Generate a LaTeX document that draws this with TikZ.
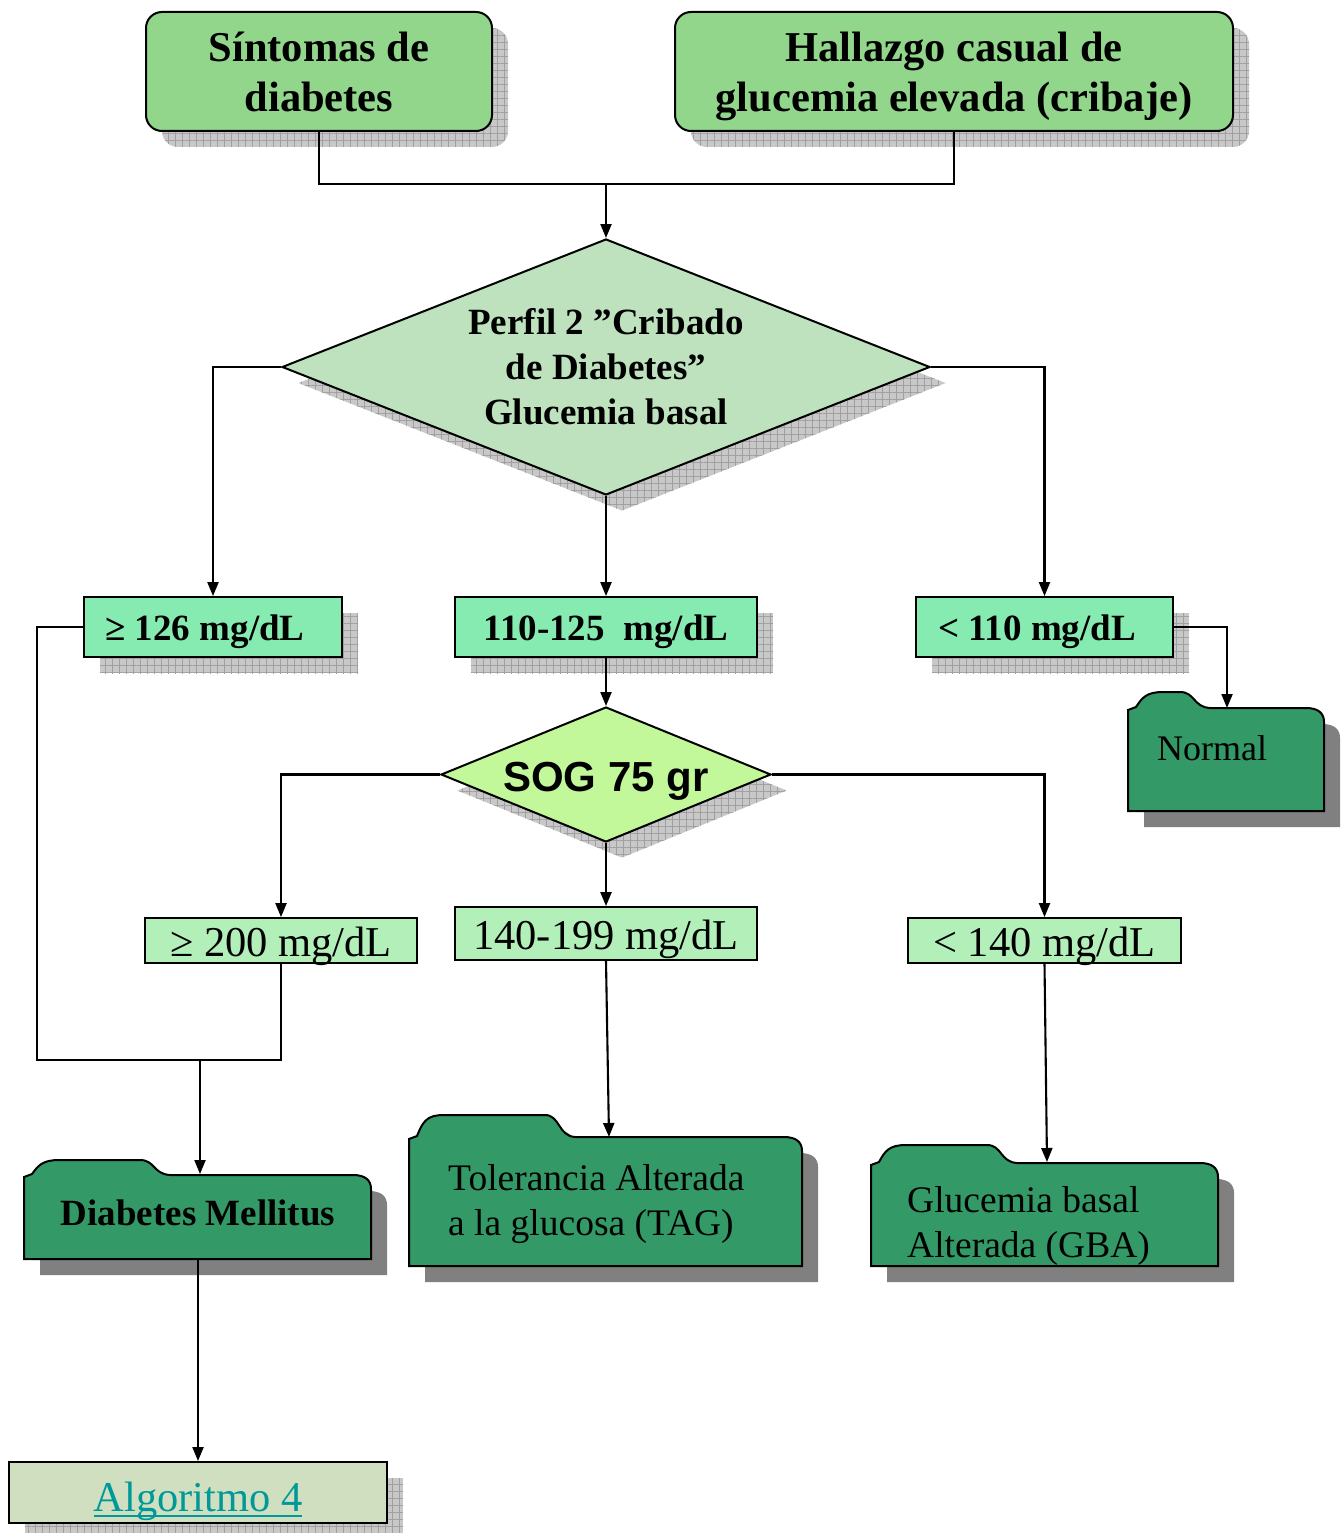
\documentclass[tikz,border=0pt]{standalone}
\usepackage{fontspec}
\setmainfont{Liberation Serif}
\newfontfamily\arialf{Liberation Sans}
\usetikzlibrary{shapes.geometric,arrows.meta,shadows,patterns.meta}
\definecolor{cTop}{RGB}{146,214,140}
\definecolor{cDa}{RGB}{189,226,189}
\definecolor{cMint}{RGB}{134,235,177}
\definecolor{cDb}{RGB}{194,247,154}
\definecolor{cLite}{RGB}{178,239,185}
\definecolor{cFold}{RGB}{51,153,102}
\definecolor{cAlg}{RGB}{208,223,192}
\definecolor{cLink}{RGB}{0,153,153}
\definecolor{shBase}{RGB}{200,200,200}
\definecolor{shLine}{RGB}{160,160,160}
\newcommand\ulink[1]{\setbox0=\hbox{#1}\leavevmode\rlap{\copy0}\rule[-6pt]{\wd0}{2pt}}
\newcommand\nodepth[1]{\raisebox{0pt}[\height][0pt]{#1}}
\begin{document}
\begin{tikzpicture}[x=1pt,y=-1pt,
  ln/.style={line width=2.1pt},
  arr/.style={line width=2.1pt,-{Triangle[length=14pt,width=11pt]}},
  hshadow/.style={
    general shadow={shadow xshift=16pt,shadow yshift=-16pt,fill=shBase},
    general shadow={shadow xshift=16pt,shadow yshift=-16pt,pattern={Lines[angle=0,distance=7pt,line width=0.8pt]},pattern color=shLine},
    general shadow={shadow xshift=16pt,shadow yshift=-16pt,pattern={Lines[angle=90,distance=7pt,line width=0.8pt]},pattern color=shLine}},
  topbox/.style={draw,line width=2pt,rounded corners=16pt,fill=cTop,hshadow,align=center,inner sep=0pt,
    font=\fontsize{42.5}{50}\selectfont\bfseries},
  midbox/.style={draw,line width=1.8pt,fill=cMint,hshadow,inner sep=0pt,minimum height=60,
    text height=27.4pt,text depth=0pt,
    font=\fontsize{37}{44}\selectfont\bfseries},
  lowbox/.style={draw,line width=1.8pt,fill=cLite,inner sep=0pt,
    text height=31.5pt,text depth=0pt,
    font=\fontsize{42.5}{50}\selectfont},
  decis/.style={diamond,draw,line width=2pt,hshadow,inner sep=0pt,align=center},
  fld/.style n args={6}{insert path={(#1,#3+2) -- (#1+8,#3-1) .. controls (#1+14,#2+6) and (#1+18,#2) .. (#1+35,#2)
     -- (#6-25,#2) .. controls (#6-10,#2) and (#6-12,#3-1) .. (#6+5,#3)
     -- (#5-18,#3) .. controls (#5-6,#3) and (#5,#3+5) .. (#5,#3+14) -- (#5,#4) -- (#1,#4) -- cycle}},
  fldshadow/.style={fill=black!50,shift={(16,16)}},
  folder/.style={draw,line width=2pt,fill=cFold},
  fldtext/.style={inner sep=0pt,align=left,font=\fontsize{37.5}{44.5}\selectfont}
]
\useasboundingbox (0,0) rectangle (1343,1533);

% top boxes
\node[topbox,minimum width=346,minimum height=119] (s1) at (319,71.5) {Síntomas de\\diabetes};
\node[topbox,minimum width=558,minimum height=119] (s2) at (954,71.5) {Hallazgo casual de\\\nodepth{glucemia elevada (cribaje)}};

% first decision
\node[decis,fill=cDa,minimum width=648,minimum height=256,shape aspect=2.53,
  font=\fontsize{37}{45}\selectfont\bfseries] (d1) at (606,367) {Perfil 2 ”Cribado\\de Diabetes”\\Glucemia basal};

% second row
\node[midbox,minimum width=258] (b1) at (213,627) {≥ 126 mg/dL\hspace*{16pt}};
\node[midbox,minimum width=302] (b2) at (606,627) {110-125\ \ mg/dL};
\node[midbox,minimum width=257] (b3) at (1044.5,627) {< 110 mg/dL\hspace*{15pt}};

% second decision
\node[decis,fill=cDb,minimum width=330,minimum height=135,shape aspect=2.44,
  text height=33.6pt,text depth=0pt,
  font=\arialf\fontsize{42}{48}\selectfont\bfseries] (d2) at (606,774.5) {SOG 75 gr};

% third row
\node[lowbox,minimum width=272,minimum height=45] (c1) at (281,940.5) {≥ 200 mg/dL};
\node[lowbox,minimum width=302,minimum height=53] (c2) at (606,933.5) {140-199 mg/dL};
\node[lowbox,minimum width=273,minimum height=45] (c3) at (1044.5,940.5) {< 140 mg/dL};

% folders
\fill[fldshadow,fld={1128}{692}{708}{811}{1324}{1205}];
\draw[folder,fld={1128}{692}{708}{811}{1324}{1205}];
\fill[fldshadow,fld={24}{1160}{1175}{1259}{371}{165}];
\draw[folder,fld={24}{1160}{1175}{1259}{371}{165}];
\fill[fldshadow,fld={409}{1115}{1137}{1266}{802}{570}];
\draw[folder,fld={409}{1115}{1137}{1266}{802}{570}];
\fill[fldshadow,fld={871}{1145}{1163}{1266}{1218}{1012}];
\draw[folder,fld={871}{1145}{1163}{1266}{1218}{1012}];

\node[fldtext,anchor=west,font=\fontsize{36}{42}\selectfont] (nor) at (1157,748) {Normal};
\node[fldtext,font=\fontsize{37}{44}\selectfont\bfseries] (dm) at (198,1213) {Diabetes Mellitus};
\node[fldtext,anchor=west] (tag) at (448,1204) {Tolerancia Alterada\\a la glucosa (TAG)};
\node[fldtext,anchor=west] (gba) at (907,1226) {Glucemia basal\\Alterada (GBA)};

\coordinate (nortop) at (1227,708);
\coordinate (dmtop) at (200,1174);
\coordinate (dmbot) at (198,1259);
\coordinate (tagtop) at (609,1137);
\coordinate (gbatop) at (1047,1162);

% final box
\node[draw,line width=2pt,fill=cAlg,hshadow,minimum width=378,minimum height=61,inner sep=0pt,
  text height=37pt,text depth=0pt,
  text=cLink,font=\fontsize{42.5}{50}\selectfont] (algo) at (198,1492.5) {\ulink{Algoritmo 4}};

% connectors
\coordinate (j) at (606,184);
\draw[ln] (s1.south) |- (j) -| (s2.south);
\draw[arr] (j) -- (d1.north);
\draw[arr] (d1.west) -| (b1.north);
\draw[arr] (d1.east) -| (b3.north);
\draw[arr] (d1.south) -- (b2.north);
\draw[arr] (b2.south) -- (d2.north);
\draw[arr] (d2.west) -| (c1.north);
\draw[arr] (d2.east) -| (c3.north);
\draw[arr] (d2.south) -- (c2.north);
\coordinate (k) at (200,1060);
\coordinate (kl) at (37,1060);
\draw[ln] (b1.west) -| (kl) -- (k);
\draw[ln] (c1.south) |- (k);
\draw[arr] (k) -- (dmtop);
\draw[arr] (c2.south) -- (tagtop);
\draw[arr] (c3.south) -- (gbatop);
\draw[arr] (b3.east) -| (nortop);
\draw[arr] (dmbot) -- (algo.north);
\end{tikzpicture}
\end{document}
